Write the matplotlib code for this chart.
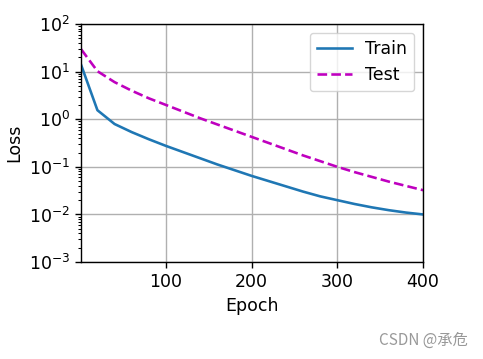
import matplotlib
matplotlib.use("Agg")
import matplotlib.pyplot as plt
import numpy as np

epochs = [1, 20, 40, 60, 80, 100, 120, 140, 160, 180, 200, 220, 240, 260, 280, 300, 320, 340, 360, 380, 400]
train_log10 = [1.14, 0.19, -0.10, -0.27, -0.42, -0.56, -0.69, -0.82, -0.95, -1.07, -1.19, -1.30, -1.41, -1.52, -1.62, -1.70, -1.78, -1.85, -1.91, -1.96, -2.00]
test_log10 = [1.47, 1.01, 0.78, 0.60, 0.44, 0.30, 0.16, 0.02, -0.11, -0.24, -0.37, -0.50, -0.63, -0.76, -0.88, -1.00, -1.11, -1.21, -1.31, -1.40, -1.49]
train_loss = [10 ** v for v in train_log10]
test_loss = [10 ** v for v in test_log10]

s = 1.25
plt.rcParams['font.size'] = 10 * s
fig = plt.figure(figsize=(4.83, 3.59), dpi=100)
ax = fig.add_axes([0.168, 0.270, 0.708, 0.663])
ax.plot(epochs, train_loss, '-', color='#1f77b4', lw=1.5 * s, label='Train')
ax.plot(epochs, test_loss, 'm--', lw=1.5 * s, label='Test')
ax.set_yscale('log')
ax.set_xlim(1, 400)
ax.set_ylim(1e-3, 1e2)
ax.set_xlabel('Epoch')
ax.set_ylabel('Loss')
ax.grid(True, color='#b0b0b0', lw=0.8 * s)
for sp in ax.spines.values():
    sp.set_linewidth(0.8 * s)
ax.tick_params(which='major', width=0.8 * s, length=3.5 * s)
ax.tick_params(which='minor', width=0.6 * s, length=2 * s)
ax.legend(loc='upper right')
fig.text(0.968, 0.028, 'CSDN @承危', ha='right', va='bottom', color='#999999',
         fontsize=11, family=['Noto Sans CJK SC', 'DejaVu Sans'])
fig.savefig('out.png', dpi=100)
